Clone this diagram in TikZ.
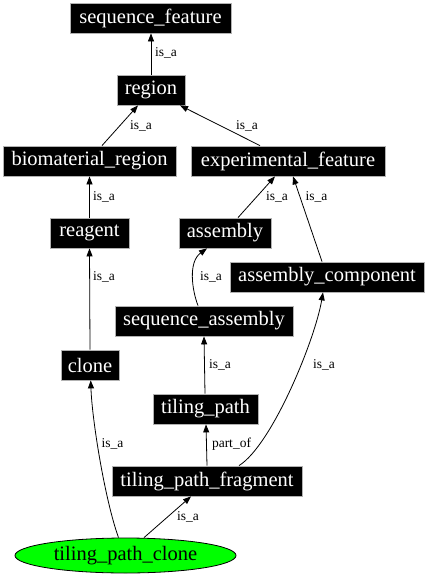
\documentclass[tikz,border=0pt]{standalone}
\usepackage{fontspec}
\setmainfont{Liberation Serif}
\usetikzlibrary{arrows.meta,shapes.geometric}
\tikzset{
  box/.style={draw=gray!60, line width=0.8pt, fill=black, text=white, minimum height=30pt, inner xsep=2pt, inner ysep=0pt, font=\fontsize{20.5}{22}\selectfont},
  oval/.style={ellipse, draw=black, line width=0.8pt, fill=green, text=black, minimum width=221pt, minimum height=35pt, inner sep=0pt, font=\fontsize{20.5}{22}\selectfont},
  arr/.style={line width=0.8pt, -{Triangle[length=8pt,width=6pt]}},
  lab/.style={font=\fontsize{13.5}{15}\selectfont, inner sep=0pt}
}
\begin{document}
\begin{tikzpicture}[x=1pt,y=-1pt]
\useasboundingbox (0,0) rectangle (427,576);
\node[box, minimum width=161pt] (sf) at (150.5,18) {sequence\_feature};
\node[box, minimum width=68pt] (region) at (151,90) {region};
\node[box, minimum width=173pt] (bio) at (89.5,161) {biomaterial\_region};
\node[box, minimum width=194pt] (exp) at (288,161) {experimental\_feature};
\node[box, minimum width=79pt] (reagent) at (89.5,233) {reagent};
\node[box, minimum width=92pt] (asm) at (225,233) {assembly};
\node[box, minimum width=194pt] (ac) at (327,277) {assembly\_component};
\node[box, minimum width=178pt] (sa) at (204,321) {sequence\_assembly};
\node[box, minimum width=58pt] (clone) at (90,365) {clone};
\node[box, minimum width=105pt] (tp) at (205.5,409) {tiling\_path};
\node[box, minimum width=190pt] (tpf) at (207,481) {tiling\_path\_fragment};
\node[oval] (tpc) at (125.5,555.5) {tiling\_path\_clone};

\draw[arr] (region.north) -- (region.north |- sf.south);
\node[lab] (l1) at (166,53) {is\_a};
\draw[arr] ([xshift=12.5pt]bio.north) -- ([xshift=-13pt]region.south);
\node[lab] (l2) at (141,126) {is\_a};
\draw[arr] ([xshift=-28pt]exp.north) -- ([xshift=29pt]region.south);
\node[lab] (l3) at (247,126) {is\_a};
\draw[arr] (reagent.north) -- (bio.south);
\node[lab] (l4) at (104,196.5) {is\_a};
\draw[arr] ([xshift=13pt]asm.north) -- ([xshift=-13pt]exp.south);
\node[lab] (l5) at (277,196.5) {is\_a};
\draw[arr] ([xshift=-5pt]ac.north) -- ([xshift=5pt]exp.south);
\node[lab] (l6) at (316.5,196.5) {is\_a};
\draw[arr] ([xshift=-6pt]sa.north) .. controls (192,290) and (188,262) .. ([xshift=-18pt]asm.south);
\node[lab] (l7) at (211,276.5) {is\_a};
\draw[arr] (clone.north) -- (reagent.south);
\node[lab] (l8) at (104,276.5) {is\_a};
\draw[arr] ([xshift=-0.5pt]tp.north) -- (sa.south);
\node[lab] (l9) at (220,365) {is\_a};
\draw[arr] (tpf.north) -- ([xshift=0.5pt]tp.south);
\node[lab] (l10) at (231.5,444) {part\_of};
\draw[arr] ([xshift=32pt]tpf.north) .. controls (272,445) and (315,340) .. ([xshift=-4pt]ac.south);
\node[lab] (l11) at (324,365) {is\_a};
\draw[arr] ([xshift=-7pt]tpc.north) .. controls (105,500) and (92,420) .. ([xshift=0.7pt]clone.south);
\node[lab] (l12) at (112.5,444) {is\_a};
\draw[arr] ([xshift=18.5pt]tpc.north) -- ([xshift=-16pt]tpf.south);
\node[lab] (l13) at (188,516.5) {is\_a};
\end{tikzpicture}
\end{document}
